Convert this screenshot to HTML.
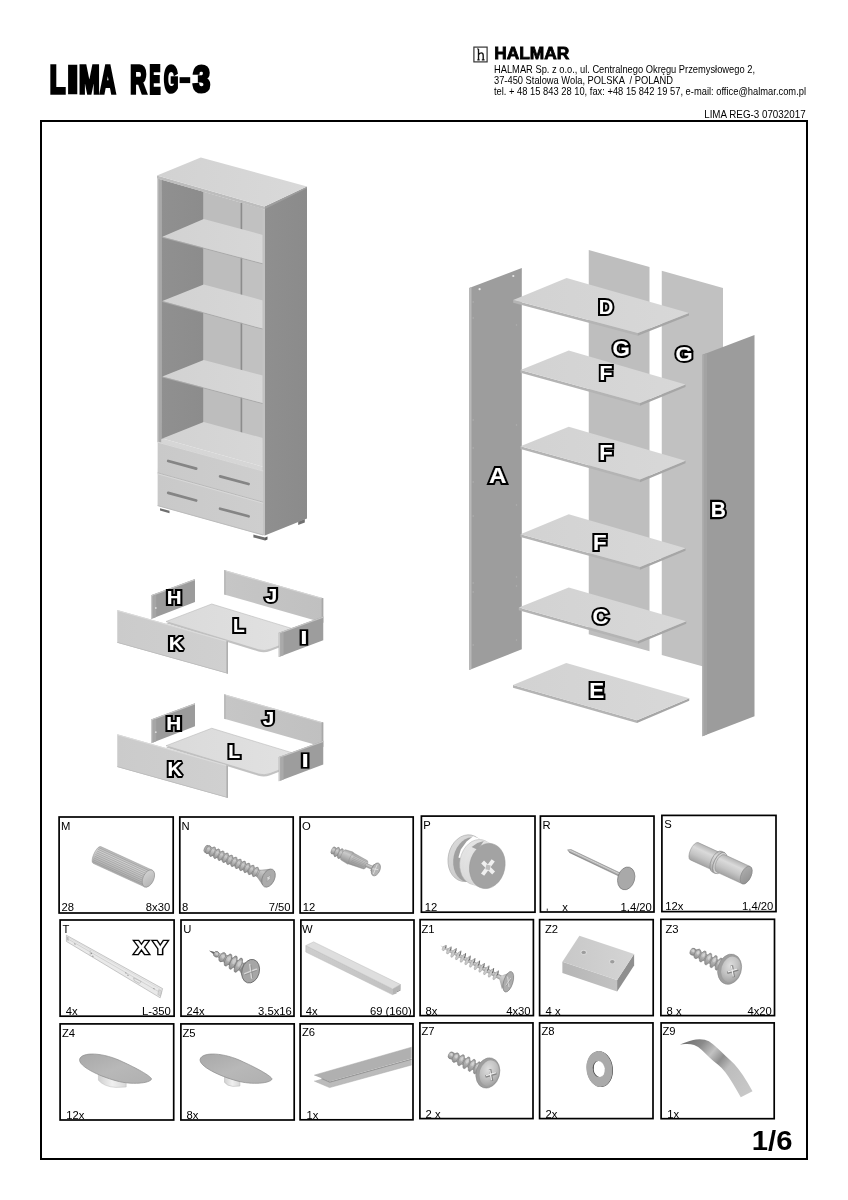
<!DOCTYPE html>
<html><head><meta charset="utf-8"><title>LIMA REG-3</title>
<style>
html,body{margin:0;padding:0;background:#fff;}
body{width:848px;height:1200px;overflow:hidden;font-family:"Liberation Sans",sans-serif;}
svg{display:block;position:absolute;left:0;top:0;will-change:transform;}
text{font-family:"Liberation Sans",sans-serif;}
.lb{font-weight:bold;font-size:19px;}
.sm{font-size:10.5px;fill:#000;}
</style></head><body>
<svg width="848" height="1200" viewBox="0 0 848 1200">
<defs>


<linearGradient id="bcTop" gradientUnits="userSpaceOnUse" x1="157" y1="170" x2="307" y2="195"><stop offset="0" stop-color="#d2d2d2"/><stop offset="1" stop-color="#d9d9d9"/></linearGradient>
<linearGradient id="bcShelf" gradientUnits="userSpaceOnUse" x1="162" y1="0" x2="263" y2="0"><stop offset="0" stop-color="#d2d2d2"/><stop offset="1" stop-color="#d7d7d7"/></linearGradient>
<linearGradient id="bcInner" gradientUnits="userSpaceOnUse" x1="161" y1="0" x2="204" y2="0"><stop offset="0" stop-color="#909090"/><stop offset="1" stop-color="#8c8c8c"/></linearGradient>
<linearGradient id="bcSide" gradientUnits="userSpaceOnUse" x1="265" y1="0" x2="307" y2="0"><stop offset="0" stop-color="#8f8f8f"/><stop offset="1" stop-color="#8b8b8b"/></linearGradient>
<linearGradient id="bcDrw" gradientUnits="userSpaceOnUse" x1="158" y1="0" x2="263" y2="0"><stop offset="0" stop-color="#c9c9c9"/><stop offset="1" stop-color="#cecece"/></linearGradient>

<linearGradient id="exShelf" gradientUnits="userSpaceOnUse" x1="513" y1="0" x2="690" y2="0"><stop offset="0" stop-color="#d2d2d2"/><stop offset="1" stop-color="#d8d8d8"/></linearGradient>

<linearGradient id="drJ" gradientUnits="userSpaceOnUse" x1="224" y1="0" x2="323" y2="0"><stop offset="0" stop-color="#c6c6c6"/><stop offset="1" stop-color="#c0c0c0"/></linearGradient>
<linearGradient id="drK" gradientUnits="userSpaceOnUse" x1="117" y1="0" x2="228" y2="0"><stop offset="0" stop-color="#cbcbcb"/><stop offset="1" stop-color="#d0d0d0"/></linearGradient>
<linearGradient id="drL" gradientUnits="userSpaceOnUse" x1="166" y1="0" x2="310" y2="0"><stop offset="0" stop-color="#dadada"/><stop offset="1" stop-color="#e2e2e2"/></linearGradient>

<linearGradient id="cylM" x1="0" y1="0" x2="0" y2="1"><stop offset="0" stop-color="#b8b8b8"/><stop offset="0.25" stop-color="#d0d0d0"/><stop offset="0.6" stop-color="#c2c2c2"/><stop offset="1" stop-color="#a9a9a9"/></linearGradient>
<linearGradient id="capM" x1="0" y1="0" x2="1" y2="1"><stop offset="0" stop-color="#d6d6d6"/><stop offset="1" stop-color="#b0b0b0"/></linearGradient>
<linearGradient id="cylN" x1="0" y1="0" x2="0" y2="1"><stop offset="0" stop-color="#9c9c9c"/><stop offset="0.3" stop-color="#c6c6c6"/><stop offset="1" stop-color="#8e8e8e"/></linearGradient>
<linearGradient id="thrN" x1="0" y1="0" x2="0" y2="1"><stop offset="0" stop-color="#9a9a9a"/><stop offset="0.35" stop-color="#cccccc"/><stop offset="1" stop-color="#8c8c8c"/></linearGradient>
<linearGradient id="cylO" x1="0" y1="0" x2="0" y2="1"><stop offset="0" stop-color="#a0a0a0"/><stop offset="0.3" stop-color="#cacaca"/><stop offset="1" stop-color="#8f8f8f"/></linearGradient>
<linearGradient id="pLight" x1="0" y1="0" x2="1" y2="1"><stop offset="0" stop-color="#dcdcdc"/><stop offset="1" stop-color="#c4c4c4"/></linearGradient>
<linearGradient id="cylR" x1="0" y1="0" x2="0" y2="1"><stop offset="0" stop-color="#a8a8a8"/><stop offset="0.35" stop-color="#d2d2d2"/><stop offset="1" stop-color="#858585"/></linearGradient>
<linearGradient id="cylS" x1="0" y1="0" x2="0" y2="1"><stop offset="0" stop-color="#b4b4b4"/><stop offset="0.3" stop-color="#dadada"/><stop offset="0.65" stop-color="#c4c4c4"/><stop offset="1" stop-color="#a2a2a2"/></linearGradient>
<linearGradient id="capS" x1="0" y1="0" x2="1" y2="1"><stop offset="0" stop-color="#b0b0b0"/><stop offset="1" stop-color="#8e8e8e"/></linearGradient>

<linearGradient id="thrU" x1="0" y1="0" x2="0" y2="1"><stop offset="0" stop-color="#8e8e8e"/><stop offset="0.35" stop-color="#c6c6c6"/><stop offset="1" stop-color="#8a8a8a"/></linearGradient>
<linearGradient id="wFront" x1="0" y1="0" x2="1" y2="0"><stop offset="0" stop-color="#cdcdcd"/><stop offset="1" stop-color="#c2c2c2"/></linearGradient>
<linearGradient id="cylZ1" x1="0" y1="0" x2="0" y2="1"><stop offset="0" stop-color="#8e8e8e"/><stop offset="0.4" stop-color="#d0d0d0"/><stop offset="1" stop-color="#9a9a9a"/></linearGradient>
<linearGradient id="z2Front" x1="0" y1="0" x2="1" y2="0"><stop offset="0" stop-color="#b6b6b6"/><stop offset="1" stop-color="#c2c2c2"/></linearGradient>
<linearGradient id="z2Top" x1="0" y1="0" x2="1" y2="0"><stop offset="0" stop-color="#c8c8c8"/><stop offset="1" stop-color="#d4d4d4"/></linearGradient>
<radialGradient id="domeZ3" cx="0.4" cy="0.36" r="0.7"><stop offset="0" stop-color="#dedede"/><stop offset="0.55" stop-color="#c2c2c2"/><stop offset="1" stop-color="#a0a0a0"/></radialGradient>
<linearGradient id="stemZ4" x1="0" y1="0" x2="1" y2="0"><stop offset="0" stop-color="#d0d0d0"/><stop offset="0.5" stop-color="#f0f0f0"/><stop offset="1" stop-color="#d8d8d8"/></linearGradient>
<linearGradient id="capZ4" x1="0" y1="0" x2="1" y2="1"><stop offset="0" stop-color="#a8a8a8"/><stop offset="0.5" stop-color="#b8b8b8"/><stop offset="1" stop-color="#b0b0b0"/></linearGradient>
<linearGradient id="z9g" gradientUnits="userSpaceOnUse" x1="683" y1="1040" x2="748" y2="1094"><stop offset="0" stop-color="#6e6e6e"/><stop offset="0.2" stop-color="#8a8a8a"/><stop offset="0.36" stop-color="#c2c2c2"/><stop offset="0.49" stop-color="#8e8e8e"/><stop offset="0.62" stop-color="#bdbdbd"/><stop offset="1" stop-color="#c8c8c8"/></linearGradient>

<linearGradient id="pLight2" x1="0" y1="0" x2="1" y2="1"><stop offset="0" stop-color="#e8e8e8"/><stop offset="1" stop-color="#d0d0d0"/></linearGradient>

</defs>
<text transform="translate(49.73 92.65) scale(0.6731 1)" font-weight="bold" font-size="38.08" stroke="#000" stroke-width="2.90" stroke-linejoin="miter" vector-effect="non-scaling-stroke">L</text>
<text transform="translate(66.64 92.65) scale(1.1215 1)" font-weight="bold" font-size="38.08" stroke="#000" stroke-width="2.90" stroke-linejoin="miter" vector-effect="non-scaling-stroke">I</text>
<text transform="translate(78.89 92.65) scale(0.6499 1)" font-weight="bold" font-size="38.08" stroke="#000" stroke-width="2.90" stroke-linejoin="miter" vector-effect="non-scaling-stroke">M</text>
<text transform="translate(99.91 92.65) scale(0.5675 1)" font-weight="bold" font-size="38.08" stroke="#000" stroke-width="2.90" stroke-linejoin="miter" vector-effect="non-scaling-stroke">A</text>
<text transform="translate(130.14 92.65) scale(0.5923 1)" font-weight="bold" font-size="38.08" stroke="#000" stroke-width="2.90" stroke-linejoin="miter" vector-effect="non-scaling-stroke">R</text>
<text transform="translate(149.55 92.65) scale(0.4306 1)" font-weight="bold" font-size="38.08" stroke="#000" stroke-width="2.90" stroke-linejoin="miter" vector-effect="non-scaling-stroke">E</text>
<text transform="translate(163.90 92.28) scale(0.4924 1)" font-weight="bold" font-size="37.01" stroke="#000" stroke-width="2.90" stroke-linejoin="miter" vector-effect="non-scaling-stroke">G</text>
<rect x="179.60" y="77.2" width="10.60" height="5.9" fill="#000"/>
<text transform="translate(192.94 92.24) scale(0.8331 1)" font-weight="bold" font-size="36.95" stroke="#000" stroke-width="2.90" stroke-linejoin="miter" vector-effect="non-scaling-stroke">3</text>
<rect x="473.9" y="47.1" width="13.2" height="14.8" fill="#fff" stroke="#333" stroke-width="1.2"/>
<path d="M478.5 48.9 V59.9 M478.5 55.0 Q479.2 52.9 481.2 52.9 Q483.2 52.9 483.2 55.4 V59.9 M481.8 59.9 H484.6 M477.3 59.9 H479.7 M477.3 48.9 H478.5" fill="none" stroke="#111" stroke-width="1.35"/>
<text x="494.2" y="58.7" font-weight="bold" font-size="16.4" textLength="75.2" lengthAdjust="spacingAndGlyphs" stroke="#000" stroke-width="0.8">HALMAR</text>
<text x="494" y="72.6" font-size="10.5" textLength="261" lengthAdjust="spacingAndGlyphs">HALMAR Sp. z o.o., ul. Centralnego Okręgu Przemysłowego 2,</text>
<text x="494" y="84.0" font-size="10.5" textLength="179" lengthAdjust="spacingAndGlyphs" xml:space="preserve">37-450 Stalowa Wola, POLSKA  / POLAND</text>
<text x="494" y="95.3" font-size="10.5" textLength="312" lengthAdjust="spacingAndGlyphs">tel. + 48 15 843 28 10, fax: +48 15 842 19 57, e-mail: office@halmar.com.pl</text>
<text x="704.2" y="118.2" font-size="10.4" textLength="101.4" lengthAdjust="spacingAndGlyphs">LIMA REG-3 07032017</text>
<text x="751.8" y="1149.6" font-weight="bold" font-size="28" textLength="40.6" lengthAdjust="spacingAndGlyphs">1/6</text>
<rect x="41" y="121" width="766" height="1038" fill="none" stroke="#000" stroke-width="2"/>
<polygon points="160.00,508.20 169.50,510.80 169.50,513.20 160.00,510.60" fill="#6f6f6f" />
<polygon points="253.40,534.60 265.00,537.60 265.00,540.40 253.40,537.40" fill="#6f6f6f" />
<polygon points="265.00,537.60 267.50,536.60 267.50,539.40 265.00,540.40" fill="#5a5a5a" />
<polygon points="298.20,521.60 304.80,519.00 304.80,522.40 298.20,525.00" fill="#707070" />
<polygon points="161.20,179.52 203.70,191.81 203.70,423.00 161.20,440.00" fill="url(#bcInner)" />
<polygon points="203.70,191.81 262.80,208.91 262.80,452.00 203.70,423.00" fill="#bdbdbd" />
<polygon points="242.20,202.95 262.80,208.91 262.80,452.00 242.20,440.00" fill="#c1c1c1" />
<rect x="240.6" y="202.60" width="1.6" height="242.40" fill="#8c8c8c"/>
<polygon points="162.40,236.80 262.80,263.30 262.80,264.30 162.40,237.80" fill="#a9a9a9" />
<polygon points="162.40,236.80 203.70,218.90 262.80,234.90 262.80,263.30" fill="url(#bcShelf)" />
<polygon points="162.40,300.90 262.80,328.60 262.80,329.60 162.40,301.90" fill="#a9a9a9" />
<polygon points="162.40,300.90 203.70,284.40 262.80,300.40 262.80,328.60" fill="url(#bcShelf)" />
<polygon points="162.40,376.40 262.80,403.10 262.80,404.10 162.40,377.40" fill="#a9a9a9" />
<polygon points="162.40,376.40 203.70,360.00 262.80,375.60 262.80,403.10" fill="url(#bcShelf)" />
<polygon points="162.40,438.40 203.70,422.00 262.80,438.00 263.80,466.90" fill="url(#bcShelf)" />
<polygon points="157.60,441.70 162.40,438.40 263.80,466.90 263.10,470.50" fill="#d6d6d6" />
<polygon points="157.60,178.50 161.20,179.50 161.20,443.00 157.60,442.00" fill="#a9a9a9" />
<polygon points="157.60,178.50 158.50,178.70 158.50,442.20 157.60,442.00" fill="#c2c2c2" />
<polygon points="264.80,206.80 307.00,186.70 307.00,518.60 264.80,535.60" fill="url(#bcSide)" />
<polygon points="262.60,209.00 265.00,209.60 265.00,535.60 262.60,535.00" fill="#c3c3c3" />
<polygon points="157.60,441.50 263.10,470.30 263.10,502.20 157.60,472.80" fill="url(#bcDrw)" />
<polygon points="157.60,472.80 263.10,502.20 263.10,535.20 157.60,505.80" fill="url(#bcDrw)" />
<path d="M157.6 442.2 L263.1 471.0" stroke="#d9d9d9" stroke-width="1" fill="none"/>
<path d="M157.6 472.8 L263.1 502.2" stroke="#b4b4b4" stroke-width="0.9" fill="none"/>
<path d="M157.6 473.8 L263.1 503.2" stroke="#dcdcdc" stroke-width="0.8" fill="none"/>
<path d="M157.6 505.6 L263.1 535.0" stroke="#b8b8b8" stroke-width="0.9" fill="none"/>
<path d="M168.2 461.0 L196.2 468.6" stroke="#858585" stroke-width="2.7" stroke-linecap="round" fill="none"/>
<path d="M220.1 476.4 L248.6 484.0" stroke="#858585" stroke-width="2.7" stroke-linecap="round" fill="none"/>
<path d="M168.2 492.9 L196.2 500.5" stroke="#858585" stroke-width="2.7" stroke-linecap="round" fill="none"/>
<path d="M220.1 508.7 L248.6 516.3" stroke="#858585" stroke-width="2.7" stroke-linecap="round" fill="none"/>
<polygon points="157.00,175.50 264.60,206.60 264.60,209.50 157.00,178.40" fill="#bdbdbd" />
<polygon points="264.60,206.60 307.00,186.50 307.00,188.30 264.60,209.20" fill="#9d9d9d" />
<polygon points="157.00,175.50 200.80,157.50 307.00,186.50 264.60,206.60" fill="url(#bcTop)" />
<polygon points="588.75,250.00 649.50,267.00 649.50,651.30 588.75,634.30" fill="#bebebe" />
<polygon points="661.75,270.80 723.00,288.00 723.00,672.00 661.75,655.00" fill="#c1c1c1" />
<polygon points="469.20,288.00 521.80,268.00 521.80,649.30 469.20,670.00" fill="#9d9d9d" />
<polygon points="469.20,288.00 471.50,287.10 471.50,669.10 469.20,670.00" fill="#b9b9b9" />
<circle cx="479.6" cy="289.2" r="1.1" fill="#e8e8e8"/>
<circle cx="513.3" cy="276.0" r="1.1" fill="#e8e8e8"/>
<circle cx="473.2" cy="302.0" r="0.7" fill="#b2b2b2"/>
<circle cx="473.2" cy="318.0" r="0.7" fill="#b2b2b2"/>
<circle cx="473.2" cy="420.0" r="0.7" fill="#b2b2b2"/>
<circle cx="473.2" cy="448.0" r="0.7" fill="#b2b2b2"/>
<circle cx="473.2" cy="482.0" r="0.7" fill="#b2b2b2"/>
<circle cx="473.2" cy="516.0" r="0.7" fill="#b2b2b2"/>
<circle cx="473.2" cy="583.0" r="0.7" fill="#b2b2b2"/>
<circle cx="473.2" cy="592.0" r="0.7" fill="#b2b2b2"/>
<circle cx="473.2" cy="645.0" r="0.7" fill="#b2b2b2"/>
<circle cx="516.5" cy="300.0" r="0.7" fill="#b2b2b2"/>
<circle cx="516.5" cy="325.0" r="0.7" fill="#b2b2b2"/>
<circle cx="516.5" cy="425.0" r="0.7" fill="#b2b2b2"/>
<circle cx="516.5" cy="505.0" r="0.7" fill="#b2b2b2"/>
<circle cx="516.5" cy="577.0" r="0.7" fill="#b2b2b2"/>
<circle cx="516.5" cy="586.0" r="0.7" fill="#b2b2b2"/>
<circle cx="516.5" cy="640.0" r="0.7" fill="#b2b2b2"/>
<polygon points="513.20,300.00 637.80,333.00 637.80,335.80 513.20,302.80" fill="#b4b4b4" />
<polygon points="637.80,333.00 689.00,313.00 689.00,315.52 637.80,335.80" fill="#a6a6a6" />
<polygon points="513.20,300.00 566.60,278.00 689.00,313.00 637.80,333.00" fill="url(#exShelf)" />
<polygon points="520.50,370.00 640.00,403.00 640.00,405.80 520.50,372.80" fill="#b4b4b4" />
<polygon points="640.00,403.00 685.50,384.50 685.50,387.02 640.00,405.80" fill="#a6a6a6" />
<polygon points="520.50,370.00 568.75,350.50 685.50,384.50 640.00,403.00" fill="url(#exShelf)" />
<polygon points="520.50,446.25 640.00,479.50 640.00,482.30 520.50,449.05" fill="#b4b4b4" />
<polygon points="640.00,479.50 685.50,460.75 685.50,463.27 640.00,482.30" fill="#a6a6a6" />
<polygon points="520.50,446.25 568.75,426.75 685.50,460.75 640.00,479.50" fill="url(#exShelf)" />
<polygon points="520.50,534.25 640.00,567.00 640.00,569.80 520.50,537.05" fill="#b4b4b4" />
<polygon points="640.00,567.00 685.50,548.25 685.50,550.77 640.00,569.80" fill="#a6a6a6" />
<polygon points="520.50,534.25 568.75,514.25 685.50,548.25 640.00,567.00" fill="url(#exShelf)" />
<polygon points="518.75,607.50 638.00,641.00 638.00,643.80 518.75,610.30" fill="#b4b4b4" />
<polygon points="638.00,641.00 686.25,621.25 686.25,623.77 638.00,643.80" fill="#a6a6a6" />
<polygon points="518.75,607.50 568.75,587.50 686.25,621.25 638.00,641.00" fill="url(#exShelf)" />
<polygon points="513.00,685.00 637.00,720.30 637.00,723.10 513.00,687.80" fill="#b4b4b4" />
<polygon points="637.00,720.30 689.25,698.25 689.25,700.77 637.00,723.10" fill="#a6a6a6" />
<polygon points="513.00,685.00 566.25,663.00 689.25,698.25 637.00,720.30" fill="url(#exShelf)" />
<polygon points="702.50,354.70 754.50,335.00 754.50,716.30 702.50,736.30" fill="#9c9c9c" />
<polygon points="702.50,354.70 707.00,353.00 707.00,734.60 702.50,736.30" fill="#a3a3a3" />
<polygon points="702.50,354.70 703.40,354.40 703.40,736.00 702.50,736.30" fill="#b4b4b4" />
<g transform="translate(598.76 314.15) scale(0.983 1)">
<text font-size="20.42" font-weight="bold" stroke-linejoin="miter" stroke-miterlimit="2.2" vector-effect="non-scaling-stroke" fill="#000" stroke="#000" stroke-width="4.20">D</text>
<text font-size="20.42" font-weight="bold" stroke-linejoin="miter" stroke-miterlimit="2.2" vector-effect="non-scaling-stroke" fill="#fff" stroke="#fff" stroke-width="0.15">D</text>
</g>
<g transform="translate(612.44 355.69) scale(1.049 1)">
<text font-size="21.26" font-weight="bold" stroke-linejoin="miter" stroke-miterlimit="2.2" vector-effect="non-scaling-stroke" fill="#000" stroke="#000" stroke-width="4.20">G</text>
<text font-size="21.26" font-weight="bold" stroke-linejoin="miter" stroke-miterlimit="2.2" vector-effect="non-scaling-stroke" fill="#fff" stroke="#fff" stroke-width="0.15">G</text>
</g>
<g transform="translate(675.45 361.44) scale(1.067 1)">
<text font-size="20.55" font-weight="bold" stroke-linejoin="miter" stroke-miterlimit="2.2" vector-effect="non-scaling-stroke" fill="#000" stroke="#000" stroke-width="4.20">G</text>
<text font-size="20.55" font-weight="bold" stroke-linejoin="miter" stroke-miterlimit="2.2" vector-effect="non-scaling-stroke" fill="#fff" stroke="#fff" stroke-width="0.15">G</text>
</g>
<g transform="translate(599.42 379.90) scale(1.007 1)">
<text font-size="21.15" font-weight="bold" stroke-linejoin="miter" stroke-miterlimit="2.2" vector-effect="non-scaling-stroke" fill="#000" stroke="#000" stroke-width="4.20">F</text>
<text font-size="21.15" font-weight="bold" stroke-linejoin="miter" stroke-miterlimit="2.2" vector-effect="non-scaling-stroke" fill="#fff" stroke="#fff" stroke-width="0.15">F</text>
</g>
<g transform="translate(488.99 482.90) scale(1.092 1)">
<text font-size="22.24" font-weight="bold" stroke-linejoin="miter" stroke-miterlimit="2.2" vector-effect="non-scaling-stroke" fill="#000" stroke="#000" stroke-width="4.20">A</text>
<text font-size="22.24" font-weight="bold" stroke-linejoin="miter" stroke-miterlimit="2.2" vector-effect="non-scaling-stroke" fill="#fff" stroke="#fff" stroke-width="0.15">A</text>
</g>
<g transform="translate(599.36 460.40) scale(1.054 1)">
<text font-size="21.15" font-weight="bold" stroke-linejoin="miter" stroke-miterlimit="2.2" vector-effect="non-scaling-stroke" fill="#000" stroke="#000" stroke-width="4.20">F</text>
<text font-size="21.15" font-weight="bold" stroke-linejoin="miter" stroke-miterlimit="2.2" vector-effect="non-scaling-stroke" fill="#fff" stroke="#fff" stroke-width="0.15">F</text>
</g>
<g transform="translate(593.11 550.40) scale(1.054 1)">
<text font-size="21.15" font-weight="bold" stroke-linejoin="miter" stroke-miterlimit="2.2" vector-effect="non-scaling-stroke" fill="#000" stroke="#000" stroke-width="4.20">F</text>
<text font-size="21.15" font-weight="bold" stroke-linejoin="miter" stroke-miterlimit="2.2" vector-effect="non-scaling-stroke" fill="#fff" stroke="#fff" stroke-width="0.15">F</text>
</g>
<g transform="translate(710.69 517.40) scale(0.975 1)">
<text font-size="21.51" font-weight="bold" stroke-linejoin="miter" stroke-miterlimit="2.2" vector-effect="non-scaling-stroke" fill="#000" stroke="#000" stroke-width="4.20">B</text>
<text font-size="21.51" font-weight="bold" stroke-linejoin="miter" stroke-miterlimit="2.2" vector-effect="non-scaling-stroke" fill="#fff" stroke="#fff" stroke-width="0.15">B</text>
</g>
<g transform="translate(592.44 623.94) scale(1.047 1)">
<text font-size="21.26" font-weight="bold" stroke-linejoin="miter" stroke-miterlimit="2.2" vector-effect="non-scaling-stroke" fill="#000" stroke="#000" stroke-width="4.20">C</text>
<text font-size="21.26" font-weight="bold" stroke-linejoin="miter" stroke-miterlimit="2.2" vector-effect="non-scaling-stroke" fill="#fff" stroke="#fff" stroke-width="0.15">C</text>
</g>
<g transform="translate(589.35 697.90) scale(1.058 1)">
<text font-size="21.15" font-weight="bold" stroke-linejoin="miter" stroke-miterlimit="2.2" vector-effect="non-scaling-stroke" fill="#000" stroke="#000" stroke-width="4.20">E</text>
<text font-size="21.15" font-weight="bold" stroke-linejoin="miter" stroke-miterlimit="2.2" vector-effect="non-scaling-stroke" fill="#fff" stroke="#fff" stroke-width="0.15">E</text>
</g>
<polygon points="151.00,595.30 195.00,579.00 195.00,602.00 151.00,619.00" fill="#9b9b9b" />
<polygon points="151.00,595.30 195.00,579.00 195.00,580.20 151.00,596.50" fill="#c6c6c6" />
<polygon points="151.00,595.30 152.60,594.70 152.60,618.40 151.00,619.00" fill="#c9c9c9" />
<polygon points="152.60,595.90 156.20,594.60 156.20,617.00 152.60,618.40" fill="#a6a6a6" />
<circle cx="155.8" cy="608.0" r="0.9" fill="#dcdcdc"/>
<polygon points="224.25,570.00 323.25,598.25 323.25,622.70 224.25,594.50" fill="url(#drJ)" />
<polygon points="224.25,570.00 323.25,598.25 323.25,599.30 224.25,571.10" fill="#d6d6d6" />
<polygon points="321.60,597.80 323.25,598.25 323.25,622.70 321.60,622.20" fill="#a8a8a8" />
<polygon points="224.25,570.00 225.60,570.40 225.60,594.90 224.25,594.50" fill="#b4b4b4" />
<path d="M166.00 621.50 L211.75 604.00 L310.00 634.00 L270.20 649.23 Q264.25 651.50 258.36 649.70 Z" transform="translate(0 1.7)" fill="#c3c3c3"/>
<path d="M166.00 621.50 L211.75 604.00 L310.00 634.00 L270.20 649.23 Q264.25 651.50 258.36 649.70 Z" fill="url(#drL)" stroke="#b9b9b9" stroke-width="0.6"/>
<polygon points="117.25,610.00 228.00,641.25 228.00,673.75 117.25,642.75" fill="url(#drK)" />
<polygon points="117.25,610.00 228.00,641.25 228.00,642.30 117.25,611.10" fill="#dcdcdc" />
<polygon points="226.40,640.80 228.00,641.25 228.00,673.75 226.40,673.30" fill="#b0b0b0" />
<polygon points="117.25,641.90 228.00,672.90 228.00,673.75 117.25,642.75" fill="#b9b9b9" />
<polygon points="278.75,632.75 323.25,616.50 323.25,640.25 278.75,657.00" fill="#9d9d9d" />
<polygon points="278.75,632.75 323.25,616.50 323.25,617.70 278.75,633.95" fill="#c4c4c4" />
<polygon points="278.75,632.75 280.40,632.15 280.40,656.40 278.75,657.00" fill="#cacaca" />
<polygon points="280.40,633.30 283.60,632.10 283.60,655.20 280.40,656.40" fill="#aaaaaa" />
<g transform="translate(166.73 604.40) scale(1.170 1)">
<text font-size="17.51" font-weight="bold" stroke-linejoin="miter" stroke-miterlimit="2.2" vector-effect="non-scaling-stroke" fill="#000" stroke="#000" stroke-width="4.20">H</text>
<text font-size="17.51" font-weight="bold" stroke-linejoin="miter" stroke-miterlimit="2.2" vector-effect="non-scaling-stroke" fill="#fff" stroke="#fff" stroke-width="0.15">H</text>
</g>
<g transform="translate(265.27 602.22) scale(1.211 1)">
<text font-size="17.98" font-weight="bold" stroke-linejoin="miter" stroke-miterlimit="2.2" vector-effect="non-scaling-stroke" fill="#000" stroke="#000" stroke-width="4.20">J</text>
<text font-size="17.98" font-weight="bold" stroke-linejoin="miter" stroke-miterlimit="2.2" vector-effect="non-scaling-stroke" fill="#fff" stroke="#fff" stroke-width="0.15">J</text>
</g>
<g transform="translate(233.07 631.90) scale(1.027 1)">
<text font-size="18.60" font-weight="bold" stroke-linejoin="miter" stroke-miterlimit="2.2" vector-effect="non-scaling-stroke" fill="#000" stroke="#000" stroke-width="4.20">L</text>
<text font-size="18.60" font-weight="bold" stroke-linejoin="miter" stroke-miterlimit="2.2" vector-effect="non-scaling-stroke" fill="#fff" stroke="#fff" stroke-width="0.15">L</text>
</g>
<g transform="translate(168.72 649.90) scale(1.108 1)">
<text font-size="18.60" font-weight="bold" stroke-linejoin="miter" stroke-miterlimit="2.2" vector-effect="non-scaling-stroke" fill="#000" stroke="#000" stroke-width="4.20">K</text>
<text font-size="18.60" font-weight="bold" stroke-linejoin="miter" stroke-miterlimit="2.2" vector-effect="non-scaling-stroke" fill="#fff" stroke="#fff" stroke-width="0.15">K</text>
</g>
<g transform="translate(300.33 643.65) scale(1.447 1)">
<text font-size="18.24" font-weight="bold" stroke-linejoin="miter" stroke-miterlimit="2.2" vector-effect="non-scaling-stroke" fill="#000" stroke="#000" stroke-width="4.20">I</text>
<text font-size="18.24" font-weight="bold" stroke-linejoin="miter" stroke-miterlimit="2.2" vector-effect="non-scaling-stroke" fill="#fff" stroke="#fff" stroke-width="0.15">I</text>
</g>
<polygon points="151.00,719.55 195.00,703.25 195.00,726.25 151.00,743.25" fill="#9b9b9b" />
<polygon points="151.00,719.55 195.00,703.25 195.00,704.45 151.00,720.75" fill="#c6c6c6" />
<polygon points="151.00,719.55 152.60,718.95 152.60,742.65 151.00,743.25" fill="#c9c9c9" />
<polygon points="152.60,720.15 156.20,718.85 156.20,741.25 152.60,742.65" fill="#a6a6a6" />
<circle cx="155.8" cy="732.2" r="0.9" fill="#dcdcdc"/>
<polygon points="224.25,694.25 323.25,722.50 323.25,746.95 224.25,718.75" fill="url(#drJ)" />
<polygon points="224.25,694.25 323.25,722.50 323.25,723.55 224.25,695.35" fill="#d6d6d6" />
<polygon points="321.60,722.05 323.25,722.50 323.25,746.95 321.60,746.45" fill="#a8a8a8" />
<polygon points="224.25,694.25 225.60,694.65 225.60,719.15 224.25,718.75" fill="#b4b4b4" />
<path d="M166.00 745.75 L211.75 728.25 L310.00 758.25 L270.20 773.48 Q264.25 775.75 258.36 773.95 Z" transform="translate(0 1.7)" fill="#c3c3c3"/>
<path d="M166.00 745.75 L211.75 728.25 L310.00 758.25 L270.20 773.48 Q264.25 775.75 258.36 773.95 Z" fill="url(#drL)" stroke="#b9b9b9" stroke-width="0.6"/>
<polygon points="117.25,734.25 228.00,765.50 228.00,798.00 117.25,767.00" fill="url(#drK)" />
<polygon points="117.25,734.25 228.00,765.50 228.00,766.55 117.25,735.35" fill="#dcdcdc" />
<polygon points="226.40,765.05 228.00,765.50 228.00,798.00 226.40,797.55" fill="#b0b0b0" />
<polygon points="117.25,766.15 228.00,797.15 228.00,798.00 117.25,767.00" fill="#b9b9b9" />
<polygon points="278.75,757.00 323.25,740.75 323.25,764.50 278.75,781.25" fill="#9d9d9d" />
<polygon points="278.75,757.00 323.25,740.75 323.25,741.95 278.75,758.20" fill="#c4c4c4" />
<polygon points="278.75,757.00 280.40,756.40 280.40,780.65 278.75,781.25" fill="#cacaca" />
<polygon points="280.40,757.55 283.60,756.35 283.60,779.45 280.40,780.65" fill="#aaaaaa" />
<g transform="translate(166.20 729.90) scale(1.147 1)">
<text font-size="18.24" font-weight="bold" stroke-linejoin="miter" stroke-miterlimit="2.2" vector-effect="non-scaling-stroke" fill="#000" stroke="#000" stroke-width="4.20">H</text>
<text font-size="18.24" font-weight="bold" stroke-linejoin="miter" stroke-miterlimit="2.2" vector-effect="non-scaling-stroke" fill="#fff" stroke="#fff" stroke-width="0.15">H</text>
</g>
<g transform="translate(262.79 725.47) scale(1.152 1)">
<text font-size="17.98" font-weight="bold" stroke-linejoin="miter" stroke-miterlimit="2.2" vector-effect="non-scaling-stroke" fill="#000" stroke="#000" stroke-width="4.20">J</text>
<text font-size="17.98" font-weight="bold" stroke-linejoin="miter" stroke-miterlimit="2.2" vector-effect="non-scaling-stroke" fill="#fff" stroke="#fff" stroke-width="0.15">J</text>
</g>
<g transform="translate(228.29 758.15) scale(1.074 1)">
<text font-size="18.24" font-weight="bold" stroke-linejoin="miter" stroke-miterlimit="2.2" vector-effect="non-scaling-stroke" fill="#000" stroke="#000" stroke-width="4.20">L</text>
<text font-size="18.24" font-weight="bold" stroke-linejoin="miter" stroke-miterlimit="2.2" vector-effect="non-scaling-stroke" fill="#fff" stroke="#fff" stroke-width="0.15">L</text>
</g>
<g transform="translate(167.47 775.65) scale(1.067 1)">
<text font-size="19.33" font-weight="bold" stroke-linejoin="miter" stroke-miterlimit="2.2" vector-effect="non-scaling-stroke" fill="#000" stroke="#000" stroke-width="4.20">K</text>
<text font-size="19.33" font-weight="bold" stroke-linejoin="miter" stroke-miterlimit="2.2" vector-effect="non-scaling-stroke" fill="#fff" stroke="#fff" stroke-width="0.15">K</text>
</g>
<g transform="translate(301.47 766.90) scale(1.500 1)">
<text font-size="17.51" font-weight="bold" stroke-linejoin="miter" stroke-miterlimit="2.2" vector-effect="non-scaling-stroke" fill="#000" stroke="#000" stroke-width="4.20">I</text>
<text font-size="17.51" font-weight="bold" stroke-linejoin="miter" stroke-miterlimit="2.2" vector-effect="non-scaling-stroke" fill="#fff" stroke="#fff" stroke-width="0.15">I</text>
</g>
<g>
<g transform="translate(95.10 854.10) rotate(24.60)"><path d="M2 -9.2 L58.6 -9.2 A4.6 9.2 0 0 1 58.6 9.2 L2 9.2 A3.2 9.2 0 0 1 2 -9.2 Z" fill="url(#cylM)" stroke="#9a9a9a" stroke-width="0.5"/><path d="M0.5 -7.4 L58.1 -7.4" stroke="#949494" stroke-width="0.5" fill="none"/><path d="M0.5 -5.5 L58.1 -5.5" stroke="#949494" stroke-width="0.5" fill="none"/><path d="M0.5 -3.6 L58.1 -3.6" stroke="#949494" stroke-width="0.5" fill="none"/><path d="M0.5 -1.7 L58.1 -1.7" stroke="#949494" stroke-width="0.5" fill="none"/><path d="M0.5 0.2 L58.1 0.2" stroke="#949494" stroke-width="0.5" fill="none"/><path d="M0.5 2.1 L58.1 2.1" stroke="#949494" stroke-width="0.5" fill="none"/><path d="M0.5 4.0 L58.1 4.0" stroke="#949494" stroke-width="0.5" fill="none"/><path d="M0.5 5.9 L58.1 5.9" stroke="#949494" stroke-width="0.5" fill="none"/><path d="M0.5 7.6 L58.1 7.6" stroke="#949494" stroke-width="0.5" fill="none"/><ellipse cx="58.6" cy="0" rx="5.4" ry="9.2" fill="url(#capM)" stroke="#8e8e8e" stroke-width="0.6"/></g>
<rect x="59.10" y="817.00" width="114.10" height="96.00" fill="none" stroke="#000" stroke-width="1.7"/>
<text transform="translate(61.00 830.00) scale(1 1)" font-size="11.25">M</text>
<text transform="translate(61.50 911.20) scale(1 1)" font-size="11.25" text-anchor="start">28</text>
<text transform="translate(170.20 911.20) scale(1 1)" font-size="11.25" text-anchor="end">8x30</text>
</g>
<g>
<g transform="translate(205.00 848.20) rotate(25.20)"><rect x="1" y="-3.9" width="60.2" height="7.8" fill="url(#cylN)"/><ellipse cx="1.5" cy="0" rx="2.0" ry="3.8" fill="#a9a9a9" stroke="#7d7d7d" stroke-width="0.5"/><ellipse cx="3.50" cy="0" rx="2.0" ry="4.4" fill="url(#thrN)" stroke="#7a7a7a" stroke-width="0.5"/><ellipse cx="8.25" cy="0" rx="2.0" ry="5.3" fill="url(#thrN)" stroke="#7a7a7a" stroke-width="0.5"/><ellipse cx="13.00" cy="0" rx="2.0" ry="5.3" fill="url(#thrN)" stroke="#7a7a7a" stroke-width="0.5"/><ellipse cx="17.75" cy="0" rx="2.0" ry="5.3" fill="url(#thrN)" stroke="#7a7a7a" stroke-width="0.5"/><ellipse cx="22.50" cy="0" rx="2.0" ry="5.3" fill="url(#thrN)" stroke="#7a7a7a" stroke-width="0.5"/><ellipse cx="27.25" cy="0" rx="2.0" ry="5.3" fill="url(#thrN)" stroke="#7a7a7a" stroke-width="0.5"/><ellipse cx="32.00" cy="0" rx="2.0" ry="5.3" fill="url(#thrN)" stroke="#7a7a7a" stroke-width="0.5"/><ellipse cx="36.75" cy="0" rx="2.0" ry="5.3" fill="url(#thrN)" stroke="#7a7a7a" stroke-width="0.5"/><ellipse cx="41.50" cy="0" rx="2.0" ry="5.3" fill="url(#thrN)" stroke="#7a7a7a" stroke-width="0.5"/><ellipse cx="46.25" cy="0" rx="2.0" ry="5.3" fill="url(#thrN)" stroke="#7a7a7a" stroke-width="0.5"/><ellipse cx="51.00" cy="0" rx="2.0" ry="5.3" fill="url(#thrN)" stroke="#7a7a7a" stroke-width="0.5"/><ellipse cx="55.75" cy="0" rx="2.0" ry="5.3" fill="url(#thrN)" stroke="#7a7a7a" stroke-width="0.5"/><path d="M59.2 -3.6 L67.7 -8.6 L67.7 8.6 L59.2 3.6 Z" fill="url(#cylN)" stroke="#858585" stroke-width="0.4"/><ellipse cx="70.2" cy="0" rx="6.0" ry="9.6" fill="#ababab" stroke="#7e7e7e" stroke-width="0.7"/><path d="M70.4 -3.6 L71.2 -1 L72.6 0.2 L71.2 1 L70.4 3.8 L69.4 1.2 L68.0 0 L69.4 -1.2 Z" fill="#dadada" stroke="#8a8a8a" stroke-width="0.35"/></g>
<rect x="179.80" y="817.00" width="113.40" height="96.00" fill="none" stroke="#000" stroke-width="1.7"/>
<text transform="translate(181.50 830.00) scale(1 1)" font-size="11.25">N</text>
<text transform="translate(182.00 911.20) scale(1 1)" font-size="11.25" text-anchor="start">8</text>
<text transform="translate(290.60 911.20) scale(1 1)" font-size="11.25" text-anchor="end">7/50</text>
</g>
<g>
<g transform="translate(332.00 849.90) rotate(24.00)"><rect x="0.5" y="-3.6" width="13" height="7.2" fill="url(#cylO)"/><ellipse cx="1.4" cy="0" rx="1.9" ry="3.8" fill="url(#thrN)" stroke="#808080" stroke-width="0.45"/><ellipse cx="5.2" cy="0" rx="1.9" ry="5.2" fill="url(#thrN)" stroke="#808080" stroke-width="0.45"/><ellipse cx="9.2" cy="0" rx="1.9" ry="5.4" fill="url(#thrN)" stroke="#808080" stroke-width="0.45"/><path d="M12.5 -5.6 L20 -6.6 A2.4 6.6 0 0 1 20 6.6 L12.5 5.6 A2 5.6 0 0 1 12.5 -5.6Z" fill="url(#cylO)" stroke="#8b8b8b" stroke-width="0.4"/><path d="M21.5 -6.0 L36.5 -4.6 A1.8 4.6 0 0 1 36.5 4.6 L21.5 6.0 A2 6.0 0 0 1 21.5 -6.0Z" fill="url(#cylO)" stroke="#8b8b8b" stroke-width="0.4"/><path d="M22 -3.8 L37 -3.1" stroke="#8f8f8f" stroke-width="0.4"/><path d="M22 -2.1 L37 -1.7" stroke="#8f8f8f" stroke-width="0.4"/><path d="M22 -0.4 L37 -0.3" stroke="#8f8f8f" stroke-width="0.4"/><path d="M22 1.3 L37 1.0" stroke="#8f8f8f" stroke-width="0.4"/><path d="M22 2.9 L37 2.4" stroke="#8f8f8f" stroke-width="0.4"/><rect x="37" y="-1.8" width="8" height="3.6" fill="url(#cylO)" stroke="#8b8b8b" stroke-width="0.3"/><path d="M43.5 -3 L46.8 -6.2 L46.8 6.2 L43.5 3Z" fill="#9a9a9a"/><ellipse cx="48.0" cy="0" rx="4.0" ry="6.8" fill="#b4b4b4" stroke="#7f7f7f" stroke-width="0.6"/><path d="M47.3 -5.2 L47.6 5.2 M44.6 0.8 L50.2 -0.8" stroke="#e2e2e2" stroke-width="0.8" fill="none"/></g>
<rect x="300.10" y="817.00" width="113.10" height="96.00" fill="none" stroke="#000" stroke-width="1.7"/>
<text transform="translate(302.00 830.00) scale(1 1)" font-size="11.25">O</text>
<text transform="translate(302.80 911.20) scale(1 1)" font-size="11.25" text-anchor="start">12</text>
</g>
<g>
<ellipse cx="0" cy="0" rx="18.4" ry="23.6" transform="translate(466.60 858.20) rotate(12)" fill="url(#pLight)" stroke="#a8a8a8" stroke-width="0.6"/>
<ellipse cx="0" cy="0" rx="17.2" ry="22.6" transform="translate(470.60 859.60) rotate(12)" fill="#a0a0a0" />
<polygon points="473.20,836.20 488.00,842.00 474.50,843.20 466.00,850.60 461.80,858.60 458.40,857.40 460.80,849.60 466.60,841.60" fill="#ffffff" />
<ellipse cx="0" cy="0" rx="17.7" ry="22.9" transform="translate(477.60 862.20) rotate(12)" fill="url(#pLight2)" stroke="#b4b4b4" stroke-width="0.5"/>
<ellipse cx="0" cy="0" rx="17.7" ry="22.9" transform="translate(482.00 864.00) rotate(12)" fill="url(#pLight2)" />
<polygon points="471.60,847.00 477.40,842.90 483.80,841.10 480.80,845.40 477.00,849.60" fill="#a2a2a2" />
<ellipse cx="0" cy="0" rx="17.6" ry="22.8" transform="translate(487.30 866.00) rotate(12)" fill="#a3a3a3" stroke="#979797" stroke-width="0.5"/>
<path d="M482.6 862.0 L493.6 873.0 M493.2 860.4 L482.6 874.6" stroke="#f0f0f0" stroke-width="4.0" stroke-linecap="butt" fill="none"/>
<rect x="-2.2" y="-2.4" width="4.4" height="4.8" transform="translate(488.0 867.4) rotate(12)" fill="#bdbdbd"/>
<rect x="421.40" y="816.10" width="113.60" height="96.10" fill="none" stroke="#000" stroke-width="1.7"/>
<text transform="translate(423.30 829.30) scale(1 1)" font-size="11.25">P</text>
<text transform="translate(424.80 910.70) scale(1 1)" font-size="11.25" text-anchor="start">12</text>
</g>
<g>
<g transform="translate(567.60 849.80) rotate(25.50)"><path d="M0 0 L3 -1.7 L57.0 -1.7 L57.0 1.7 L3 1.7 Z" fill="url(#cylR)" stroke="#808080" stroke-width="0.45"/></g><ellipse cx="0" cy="0" rx="8.4" ry="11.6" transform="translate(626.2 878.4) rotate(16)" fill="#a9a9a9" stroke="#787878" stroke-width="0.7"/>
<rect x="540.40" y="816.10" width="113.60" height="95.90" fill="none" stroke="#000" stroke-width="1.7"/>
<text transform="translate(542.50 829.30) scale(1 1)" font-size="11.25">R</text>
<text transform="translate(562.30 910.70) scale(1 1)" font-size="11.25" text-anchor="start">x</text>
<text transform="translate(651.80 910.70) scale(1 1)" font-size="11.25" text-anchor="end">1,4/20</text>
</g>
<g>
<g transform="translate(692.00 850.20) rotate(24.70)"><path d="M2.5 -9.5 L27.6 -9.5 L27.6 9.5 L2.5 9.5 A4.0 9.5 0 0 1 2.5 -9.5 Z" fill="url(#cylS)" stroke="#8e8e8e" stroke-width="0.5"/><path d="M27.6 -11.4 L30.8 -11.4 A5.9 11.4 0 0 0 30.8 11.4 L27.6 11.4 A5.9 11.4 0 0 1 27.6 -11.4 Z" fill="url(#cylS)" stroke="#808080" stroke-width="0.55"/><ellipse cx="30.8" cy="0" rx="5.9" ry="11.4" fill="#d2d2d2" stroke="#858585" stroke-width="0.55"/><path d="M31.8 -9.5 L59.6 -9.5 A4.9 9.5 0 0 1 59.6 9.5 L31.8 9.5 A4.9 9.5 0 0 1 31.8 -9.5 Z" fill="url(#cylS)" stroke="#8e8e8e" stroke-width="0.5"/><ellipse cx="59.6" cy="0" rx="4.9" ry="9.5" fill="url(#capS)" stroke="#858585" stroke-width="0.6"/></g>
<rect x="661.90" y="815.40" width="114.10" height="96.20" fill="none" stroke="#000" stroke-width="1.7"/>
<text transform="translate(664.30 827.80) scale(1 1)" font-size="11.25">S</text>
<text transform="translate(665.30 910.10) scale(1 1)" font-size="11.25" text-anchor="start">12x</text>
<text transform="translate(773.30 910.10) scale(1 1)" font-size="11.25" text-anchor="end">1,4/20</text>
</g>
<g>
<polygon points="66.40,935.20 162.60,988.60 160.20,997.80 66.40,941.40" fill="#e9e9e9" stroke="#a6a6a6" stroke-width="0.6"/>
<path d="M66.6 938.2 L161.4 993.2" stroke="#c2c2c2" stroke-width="0.6" fill="none"/>
<path d="M67.4 936.9 L161.9 990.1" stroke="#d0d0d0" stroke-width="0.5" fill="none"/>
<polygon points="66.80,936.60 68.60,937.60 68.60,941.00 66.80,940.00" fill="#b8b8b8" />
<rect x="74.5" y="943.2" width="1.4" height="1.0" fill="#8f8f8f" transform="rotate(29 74.5 943.2)"/>
<rect x="91.0" y="952.6" width="1.4" height="1.0" fill="#8f8f8f" transform="rotate(29 91.0 952.6)"/>
<rect x="92.4" y="955.4" width="1.4" height="1.0" fill="#8f8f8f" transform="rotate(29 92.4 955.4)"/>
<rect x="125.5" y="972.2" width="1.4" height="1.0" fill="#8f8f8f" transform="rotate(29 125.5 972.2)"/>
<rect x="127.5" y="974.4" width="1.4" height="1.0" fill="#8f8f8f" transform="rotate(29 127.5 974.4)"/>
<rect x="153.6" y="988.0" width="1.4" height="1.0" fill="#8f8f8f" transform="rotate(29 153.6 988.0)"/>
<path d="M133.6 977.8 L141.2 981.6 L139.4 983.4 L134.2 980.6 Z" fill="none" stroke="#a0a0a0" stroke-width="0.5"/>
<path d="M90.2 950.2 L90.2 955.6" stroke="#b0b0b0" stroke-width="0.5"/>
<polygon points="158.80,989.60 161.60,991.20 160.40,996.00 157.80,994.60" fill="#d6d6d6" stroke="#a8a8a8" stroke-width="0.4"/>
<g transform="translate(134.26 954.35) scale(1.237 1)">
<text font-size="17.44" font-weight="bold" stroke-linejoin="miter" stroke-miterlimit="2.2" vector-effect="non-scaling-stroke" fill="#000" stroke="#000" stroke-width="2.90">X</text>
<text font-size="17.44" font-weight="bold" stroke-linejoin="miter" stroke-miterlimit="2.2" vector-effect="non-scaling-stroke" fill="#fff" stroke="#fff" stroke-width="0.15">X</text>
</g>
<g transform="translate(153.08 954.35) scale(1.248 1)">
<text font-size="17.44" font-weight="bold" stroke-linejoin="miter" stroke-miterlimit="2.2" vector-effect="non-scaling-stroke" fill="#000" stroke="#000" stroke-width="2.90">Y</text>
<text font-size="17.44" font-weight="bold" stroke-linejoin="miter" stroke-miterlimit="2.2" vector-effect="non-scaling-stroke" fill="#fff" stroke="#fff" stroke-width="0.15">Y</text>
</g>
<rect x="60.10" y="920.00" width="114.00" height="96.20" fill="none" stroke="#000" stroke-width="1.7"/>
<text transform="translate(62.50 932.50) scale(1 1)" font-size="11.25">T</text>
<text transform="translate(65.80 1014.80) scale(1 1)" font-size="11.25" text-anchor="start">4x</text>
<text transform="translate(170.80 1014.80) scale(1 1)" font-size="11.25" text-anchor="end">L-350</text>
</g>
<g>
<g transform="translate(209.90 951.00) rotate(26.50)"><path d="M-0.5 0 L18 -4.2 L41 -4.6 L41 4.6 L18 4.2 Z" fill="url(#thrU)"/><path d="M-1 0 L6 -1.4 L6 1.4 Z" fill="#666"/><ellipse cx="7.2" cy="0" rx="2.7" ry="2.9" fill="url(#thrU)" stroke="#6b6b6b" stroke-width="0.55"/><ellipse cx="7.5" cy="-0.7" rx="1.2" ry="1.3" fill="#d2d2d2" opacity="0.7"/><ellipse cx="13.9" cy="0" rx="2.7" ry="5.0" fill="url(#thrU)" stroke="#6b6b6b" stroke-width="0.55"/><ellipse cx="14.2" cy="-1.2" rx="1.2" ry="2.2" fill="#d2d2d2" opacity="0.7"/><ellipse cx="20.3" cy="0" rx="2.7" ry="6.6" fill="url(#thrU)" stroke="#6b6b6b" stroke-width="0.55"/><ellipse cx="20.6" cy="-1.6" rx="1.2" ry="3.0" fill="#d2d2d2" opacity="0.7"/><ellipse cx="26.0" cy="0" rx="2.7" ry="7.3" fill="url(#thrU)" stroke="#6b6b6b" stroke-width="0.55"/><ellipse cx="26.3" cy="-1.8" rx="1.2" ry="3.3" fill="#d2d2d2" opacity="0.7"/><ellipse cx="31.8" cy="0" rx="2.7" ry="7.8" fill="url(#thrU)" stroke="#6b6b6b" stroke-width="0.55"/><ellipse cx="32.1" cy="-1.9" rx="1.2" ry="3.5" fill="#d2d2d2" opacity="0.7"/><path d="M36 -4.6 L44.5 -11 L44.5 11 L36 4.6 Z" fill="#9c9c9c" stroke="#707070" stroke-width="0.4"/></g>
<ellipse cx="0" cy="0" rx="8.7" ry="12.0" transform="translate(250.6 971.2) rotate(15)" fill="#a6a6a6" stroke="#666" stroke-width="0.8"/>
<path d="M244.8 973.6 L256.6 969.2 M249.8 964.6 L251.6 978.0" stroke="#d8d8d8" stroke-width="1.5" fill="none" stroke-linecap="round"/>
<path d="M245.2 974.6 L256.8 970.2 M250.8 964.8 L252.6 978.0" stroke="#6e6e6e" stroke-width="0.45" fill="none"/>
<rect x="181.00" y="920.00" width="113.00" height="96.20" fill="none" stroke="#000" stroke-width="1.7"/>
<text transform="translate(183.30 932.50) scale(1 1)" font-size="11.25">U</text>
<text transform="translate(186.50 1014.80) scale(1 1)" font-size="11.25" text-anchor="start">24x</text>
<text transform="translate(291.80 1014.80) scale(1 1)" font-size="11.25" text-anchor="end">3,5x16</text>
</g>
<g>
<polygon points="305.80,945.60 392.70,989.00 392.70,994.80 305.80,952.00" fill="url(#wFront)" />
<polygon points="305.80,945.60 313.60,941.90 400.50,984.50 392.70,989.00" fill="#dedede" />
<polygon points="392.70,989.00 400.50,984.50 400.50,989.70 396.60,991.60 396.60,993.60 392.70,994.80" fill="#b4b4b4" />
<polygon points="396.60,991.60 400.50,989.70 400.50,990.60 396.60,992.60" fill="#8a8a8a" />
<path d="M305.8 945.6 L392.7 989.0 L400.5 984.5 M392.7 989.0 L392.7 994.8" stroke="#b2b2b2" stroke-width="0.5" fill="none"/>
<path d="M305.8 945.6 L313.6 941.9 L400.5 984.5 L400.5 989.7 M305.8 945.6 L305.8 952.0 L392.7 994.8" stroke="#b9b9b9" stroke-width="0.5" fill="none"/>
<rect x="300.90" y="920.00" width="113.10" height="96.20" fill="none" stroke="#000" stroke-width="1.7"/>
<text transform="translate(302.00 932.50) scale(1 1)" font-size="11.25">W</text>
<text transform="translate(305.80 1014.80) scale(1 1)" font-size="11.25" text-anchor="start">4x</text>
<text transform="translate(411.80 1014.80) scale(1 1)" font-size="11.25" text-anchor="end">69 (160)</text>
</g>
<g>
<g transform="translate(440.30 945.60) rotate(27.99)"><path d="M0 0 L9 -1.6 L69.7 -2.3 L69.7 2.3 L9 1.6 Z" fill="url(#cylZ1)"/><ellipse cx="4.50" cy="0.6" rx="1.5" ry="2.60" fill="#c9c9c9" stroke="#8d8d8d" stroke-width="0.35"/><path d="M4.70 -3.20 Q6.10 -1.56 5.70 0" stroke="#555" stroke-width="0.75" fill="none"/><ellipse cx="9.80" cy="0.6" rx="1.5" ry="3.60" fill="#c9c9c9" stroke="#8d8d8d" stroke-width="0.35"/><path d="M10.00 -4.20 Q11.40 -2.16 11.00 0" stroke="#555" stroke-width="0.75" fill="none"/><ellipse cx="15.10" cy="0.6" rx="1.5" ry="4.60" fill="#c9c9c9" stroke="#8d8d8d" stroke-width="0.35"/><path d="M15.30 -5.20 Q16.70 -2.76 16.30 0" stroke="#555" stroke-width="0.75" fill="none"/><ellipse cx="20.40" cy="0.6" rx="1.5" ry="4.60" fill="#c9c9c9" stroke="#8d8d8d" stroke-width="0.35"/><path d="M20.60 -5.20 Q22.00 -2.76 21.60 0" stroke="#555" stroke-width="0.75" fill="none"/><ellipse cx="25.70" cy="0.6" rx="1.5" ry="4.60" fill="#c9c9c9" stroke="#8d8d8d" stroke-width="0.35"/><path d="M25.90 -5.20 Q27.30 -2.76 26.90 0" stroke="#555" stroke-width="0.75" fill="none"/><ellipse cx="31.00" cy="0.6" rx="1.5" ry="4.60" fill="#c9c9c9" stroke="#8d8d8d" stroke-width="0.35"/><path d="M31.20 -5.20 Q32.60 -2.76 32.20 0" stroke="#555" stroke-width="0.75" fill="none"/><ellipse cx="36.30" cy="0.6" rx="1.5" ry="4.60" fill="#c9c9c9" stroke="#8d8d8d" stroke-width="0.35"/><path d="M36.50 -5.20 Q37.90 -2.76 37.50 0" stroke="#555" stroke-width="0.75" fill="none"/><ellipse cx="41.60" cy="0.6" rx="1.5" ry="4.60" fill="#c9c9c9" stroke="#8d8d8d" stroke-width="0.35"/><path d="M41.80 -5.20 Q43.20 -2.76 42.80 0" stroke="#555" stroke-width="0.75" fill="none"/><ellipse cx="46.90" cy="0.6" rx="1.5" ry="4.60" fill="#c9c9c9" stroke="#8d8d8d" stroke-width="0.35"/><path d="M47.10 -5.20 Q48.50 -2.76 48.10 0" stroke="#555" stroke-width="0.75" fill="none"/><ellipse cx="52.20" cy="0.6" rx="1.5" ry="4.60" fill="#c9c9c9" stroke="#8d8d8d" stroke-width="0.35"/><path d="M52.40 -5.20 Q53.80 -2.76 53.40 0" stroke="#555" stroke-width="0.75" fill="none"/><ellipse cx="57.50" cy="0.6" rx="1.5" ry="4.60" fill="#c9c9c9" stroke="#8d8d8d" stroke-width="0.35"/><path d="M57.70 -5.20 Q59.10 -2.76 58.70 0" stroke="#555" stroke-width="0.75" fill="none"/><ellipse cx="62.80" cy="0.6" rx="1.5" ry="4.60" fill="#c9c9c9" stroke="#8d8d8d" stroke-width="0.35"/><path d="M63.00 -5.20 Q64.40 -2.76 64.00 0" stroke="#555" stroke-width="0.75" fill="none"/><path d="M68.2 -2.3 L74.9 -9.6 L74.9 9.6 L68.2 2.3 Z" fill="url(#cylZ1)"/></g>
<ellipse cx="0" cy="0" rx="4.6" ry="10.6" transform="translate(508.3 981.8) rotate(17)" fill="#acacac" stroke="#777" stroke-width="0.6"/>
<path d="M505.8 985.4 L511.0 978.0 M507.6 976.6 L509.0 987.0" stroke="#dedede" stroke-width="0.9" fill="none"/>
<path d="M506.4 985.8 L511.4 978.6" stroke="#6a6a6a" stroke-width="0.35" fill="none"/>
<rect x="420.10" y="919.65" width="113.30" height="95.95" fill="none" stroke="#000" stroke-width="1.7"/>
<text transform="translate(421.50 932.50) scale(1 1)" font-size="11.25">Z1</text>
<text transform="translate(425.50 1014.50) scale(1 1)" font-size="11.25" text-anchor="start">8x</text>
<text transform="translate(530.60 1014.50) scale(1 1)" font-size="11.25" text-anchor="end">4x30</text>
</g>
<g>
<polygon points="562.40,961.80 617.10,979.90 617.10,991.60 562.40,973.00" fill="url(#z2Front)" />
<polygon points="617.10,979.90 634.10,953.90 634.10,965.60 617.10,991.60" fill="#8f8f8f" />
<polygon points="562.40,961.80 579.40,935.80 634.10,953.90 617.10,979.90" fill="url(#z2Top)" />
<ellipse cx="583.7" cy="952.3" rx="3.2" ry="2.5" fill="#dadada"/>
<ellipse cx="583.7" cy="952.4" rx="2.2" ry="1.7" fill="#9c9c9c"/>
<ellipse cx="612.3" cy="961.6" rx="3.2" ry="2.5" fill="#dadada"/>
<ellipse cx="612.3" cy="961.7" rx="2.2" ry="1.7" fill="#9c9c9c"/>
<rect x="539.60" y="919.65" width="113.60" height="95.95" fill="none" stroke="#000" stroke-width="1.7"/>
<text transform="translate(545.00 932.50) scale(1 1)" font-size="11.25">Z2</text>
<text transform="translate(545.50 1014.50) scale(1 1)" font-size="11.25" text-anchor="start">4 x</text>
</g>
<g>
<g transform="translate(691.40 951.00) rotate(25.57)"><rect x="1" y="-3.8" width="36.1" height="7.6" fill="#a2a2a2"/><ellipse cx="1.40" cy="0" rx="2.5" ry="3.60" fill="url(#thrU)" stroke="#7c7c7c" stroke-width="0.5"/><ellipse cx="1.60" cy="-1.08" rx="1.0" ry="1.44" fill="#dadada" opacity="0.75"/><ellipse cx="6.60" cy="0" rx="2.5" ry="5.20" fill="url(#thrU)" stroke="#7c7c7c" stroke-width="0.5"/><ellipse cx="6.80" cy="-1.56" rx="1.0" ry="2.08" fill="#dadada" opacity="0.75"/><ellipse cx="12.60" cy="0" rx="2.5" ry="6.00" fill="url(#thrU)" stroke="#7c7c7c" stroke-width="0.5"/><ellipse cx="12.80" cy="-1.80" rx="1.0" ry="2.40" fill="#dadada" opacity="0.75"/><ellipse cx="18.60" cy="0" rx="2.5" ry="6.40" fill="url(#thrU)" stroke="#7c7c7c" stroke-width="0.5"/><ellipse cx="18.80" cy="-1.92" rx="1.0" ry="2.56" fill="#dadada" opacity="0.75"/><ellipse cx="24.60" cy="0" rx="2.5" ry="6.60" fill="url(#thrU)" stroke="#7c7c7c" stroke-width="0.5"/><ellipse cx="24.80" cy="-1.98" rx="1.0" ry="2.64" fill="#dadada" opacity="0.75"/><ellipse cx="30.40" cy="0" rx="2.5" ry="6.60" fill="url(#thrU)" stroke="#7c7c7c" stroke-width="0.5"/><ellipse cx="30.60" cy="-1.98" rx="1.0" ry="2.64" fill="#dadada" opacity="0.75"/></g>
<ellipse cx="0" cy="0" rx="11.7" ry="15.4" transform="translate(729.60 969.20) rotate(16)" fill="#9e9e9e" stroke="#868686" stroke-width="0.5"/>
<ellipse cx="0" cy="0" rx="9.6" ry="13.0" transform="translate(731.00 969.40) rotate(16)" fill="url(#domeZ3)"/>
<g transform="translate(732.60 971.00)"><path d="M-5.4 1.8 L5.6 -1.6 M-0.8 -5.6 L1.2 6.2" stroke="#858585" stroke-width="2.6" fill="none"/><path d="M-4.8 0.9 L5.0 -2.2 M-1.2 -5.0 L0.6 5.6" stroke="#ededed" stroke-width="1.3" fill="none"/></g>
<rect x="660.90" y="919.30" width="113.60" height="96.30" fill="none" stroke="#000" stroke-width="1.7"/>
<text transform="translate(665.50 932.50) scale(1 1)" font-size="11.25">Z3</text>
<text transform="translate(666.50 1014.50) scale(1 1)" font-size="11.25" text-anchor="start">8 x</text>
<text transform="translate(771.80 1014.50) scale(1 1)" font-size="11.25" text-anchor="end">4x20</text>
</g>
<g>
<path d="M98.4 1074.8 L98.4 1080.2 Q104 1086.8 116 1087.4 L126.2 1087.0 L126.2 1081.6 Z" fill="url(#stemZ4)" stroke="#bdbdbd" stroke-width="0.5" transform="translate(0.0 0)"/>
<path d="M79.6 1059.3 C81.6 1051.4 103.8 1052.4 123.0 1062.0 C135.7 1067.8 150.6 1075.8 151.6 1079.0 C150.0 1083.4 131.4 1085.1 116.6 1080.9 C98.5 1076.0 78.4 1066.2 79.6 1059.3 Z" transform="translate(0.00 0)" fill="url(#capZ4)" stroke="#8c8c8c" stroke-width="0.7"/>
<rect x="60.10" y="1023.90" width="113.60" height="96.10" fill="none" stroke="#000" stroke-width="1.7"/>
<text transform="translate(62.00 1036.70) scale(1 1)" font-size="11.25">Z4</text>
<text transform="translate(66.30 1118.90) scale(1 1)" font-size="11.25" text-anchor="start">12x</text>
</g>
<g>
<path d="M104.0 1077.0 L104.0 1082.2 Q106.6 1086.0 112.4 1086.4 L119.4 1086.0 L119.4 1081.0 Z" fill="url(#stemZ4)" stroke="#b4b4b4" stroke-width="0.5" transform="translate(120.5 0)"/>
<path d="M79.6 1059.3 C81.6 1051.4 103.8 1052.4 123.0 1062.0 C135.7 1067.8 150.6 1075.8 151.6 1079.0 C150.0 1083.4 131.4 1085.1 116.6 1080.9 C98.5 1076.0 78.4 1066.2 79.6 1059.3 Z" transform="translate(120.50 0)" fill="url(#capZ4)" stroke="#8c8c8c" stroke-width="0.7"/>
<rect x="180.90" y="1023.90" width="113.30" height="96.10" fill="none" stroke="#000" stroke-width="1.7"/>
<text transform="translate(182.50 1036.70) scale(1 1)" font-size="11.25">Z5</text>
<text transform="translate(186.50 1118.90) scale(1 1)" font-size="11.25" text-anchor="start">8x</text>
</g>
<g>
<polygon points="314.10,1081.00 322.00,1078.80 329.80,1082.00 411.60,1059.00 411.60,1065.00 329.60,1087.60" fill="#bbbbbb" />
<polygon points="314.10,1075.20 411.60,1047.20 411.60,1058.40 329.60,1081.40" fill="#b0b0b0" />
<path d="M321.6 1078.6 L329.8 1082.1 L411.6 1059.2" stroke="#979797" stroke-width="1.1" fill="none"/>
<path d="M314.1 1081.0 L329.6 1087.6 L411.6 1065.0" stroke="#a6a6a6" stroke-width="0.5" fill="none"/>
<path d="M314.1 1075.2 L411.6 1047.2" stroke="#a2a2a2" stroke-width="0.5" fill="none"/>
<rect x="300.10" y="1023.90" width="112.90" height="95.90" fill="none" stroke="#000" stroke-width="1.7"/>
<text transform="translate(302.00 1036.10) scale(1 1)" font-size="11.25">Z6</text>
<text transform="translate(306.50 1118.50) scale(1 1)" font-size="11.25" text-anchor="start">1x</text>
</g>
<g>
<g transform="translate(449.65 1054.75) rotate(25.57)"><rect x="1" y="-3.8" width="36.1" height="7.6" fill="#a2a2a2"/><ellipse cx="1.40" cy="0" rx="2.5" ry="3.60" fill="url(#thrU)" stroke="#7c7c7c" stroke-width="0.5"/><ellipse cx="1.60" cy="-1.08" rx="1.0" ry="1.44" fill="#dadada" opacity="0.75"/><ellipse cx="6.60" cy="0" rx="2.5" ry="5.20" fill="url(#thrU)" stroke="#7c7c7c" stroke-width="0.5"/><ellipse cx="6.80" cy="-1.56" rx="1.0" ry="2.08" fill="#dadada" opacity="0.75"/><ellipse cx="12.60" cy="0" rx="2.5" ry="6.00" fill="url(#thrU)" stroke="#7c7c7c" stroke-width="0.5"/><ellipse cx="12.80" cy="-1.80" rx="1.0" ry="2.40" fill="#dadada" opacity="0.75"/><ellipse cx="18.60" cy="0" rx="2.5" ry="6.40" fill="url(#thrU)" stroke="#7c7c7c" stroke-width="0.5"/><ellipse cx="18.80" cy="-1.92" rx="1.0" ry="2.56" fill="#dadada" opacity="0.75"/><ellipse cx="24.60" cy="0" rx="2.5" ry="6.60" fill="url(#thrU)" stroke="#7c7c7c" stroke-width="0.5"/><ellipse cx="24.80" cy="-1.98" rx="1.0" ry="2.64" fill="#dadada" opacity="0.75"/><ellipse cx="30.40" cy="0" rx="2.5" ry="6.60" fill="url(#thrU)" stroke="#7c7c7c" stroke-width="0.5"/><ellipse cx="30.60" cy="-1.98" rx="1.0" ry="2.64" fill="#dadada" opacity="0.75"/></g>
<ellipse cx="0" cy="0" rx="11.7" ry="15.4" transform="translate(487.85 1072.95) rotate(16)" fill="#9e9e9e" stroke="#868686" stroke-width="0.5"/>
<ellipse cx="0" cy="0" rx="9.6" ry="13.0" transform="translate(489.25 1073.15) rotate(16)" fill="url(#domeZ3)"/>
<g transform="translate(490.85 1074.75)"><path d="M-5.4 1.8 L5.6 -1.6 M-0.8 -5.6 L1.2 6.2" stroke="#858585" stroke-width="2.6" fill="none"/><path d="M-4.8 0.9 L5.0 -2.2 M-1.2 -5.0 L0.6 5.6" stroke="#ededed" stroke-width="1.3" fill="none"/></g>
<rect x="419.90" y="1022.90" width="113.10" height="95.70" fill="none" stroke="#000" stroke-width="1.7"/>
<text transform="translate(421.50 1035.10) scale(1 1)" font-size="11.25">Z7</text>
<text transform="translate(425.50 1117.50) scale(1 1)" font-size="11.25" text-anchor="start">2 x</text>
</g>
<g>
<ellipse cx="0" cy="0" rx="13.0" ry="18.0" transform="translate(599.9 1069.1) rotate(-7)" fill="#3a3a3a"/>
<ellipse cx="0" cy="0" rx="13.0" ry="18.0" transform="translate(599.4 1069.0) rotate(-7)" fill="#aaaaaa"/>
<ellipse cx="0" cy="0" rx="5.7" ry="8.1" transform="translate(598.6 1069.0) rotate(-7)" fill="#2e2e2e"/>
<ellipse cx="0" cy="0" rx="5.6" ry="8.0" transform="translate(599.2 1069.0) rotate(-7)" fill="#ffffff"/>
<rect x="539.60" y="1022.90" width="113.40" height="95.70" fill="none" stroke="#000" stroke-width="1.7"/>
<text transform="translate(541.50 1035.10) scale(1 1)" font-size="11.25">Z8</text>
<text transform="translate(545.50 1117.50) scale(1 1)" font-size="11.25" text-anchor="start">2x</text>
</g>
<g>
<path d="M680.0 1044.4 Q691.2 1040.0 696.0 1039.4 Q700.7 1038.8 704.8 1039.7 Q708.9 1040.6 713.0 1044.2 Q717.2 1047.7 721.3 1051.8 Q725.4 1055.9 729.5 1059.5 Q733.7 1063.0 738.4 1068.9 Q743.1 1074.8 747.8 1083.0 L752.5 1091.3 L740.8 1097.2 Q736.0 1089.0 732.5 1083.1 Q729.0 1077.2 725.5 1072.5 Q721.9 1067.7 717.8 1064.5 Q713.6 1061.3 709.5 1057.4 Q705.4 1053.6 701.8 1050.0 Q698.3 1046.5 694.1 1045.0 Q690.0 1043.6 685.0 1044.0 L680.0 1044.4 Z" fill="url(#z9g)"/>
<rect x="661.10" y="1022.90" width="113.10" height="95.80" fill="none" stroke="#000" stroke-width="1.7"/>
<text transform="translate(662.50 1035.10) scale(1 1)" font-size="11.25">Z9</text>
<text transform="translate(667.30 1117.50) scale(1 1)" font-size="11.25" text-anchor="start">1x</text>
</g>
<rect x="546.8" y="908.6" width="0.9" height="2.2" fill="#222"/>
</svg></body></html>
